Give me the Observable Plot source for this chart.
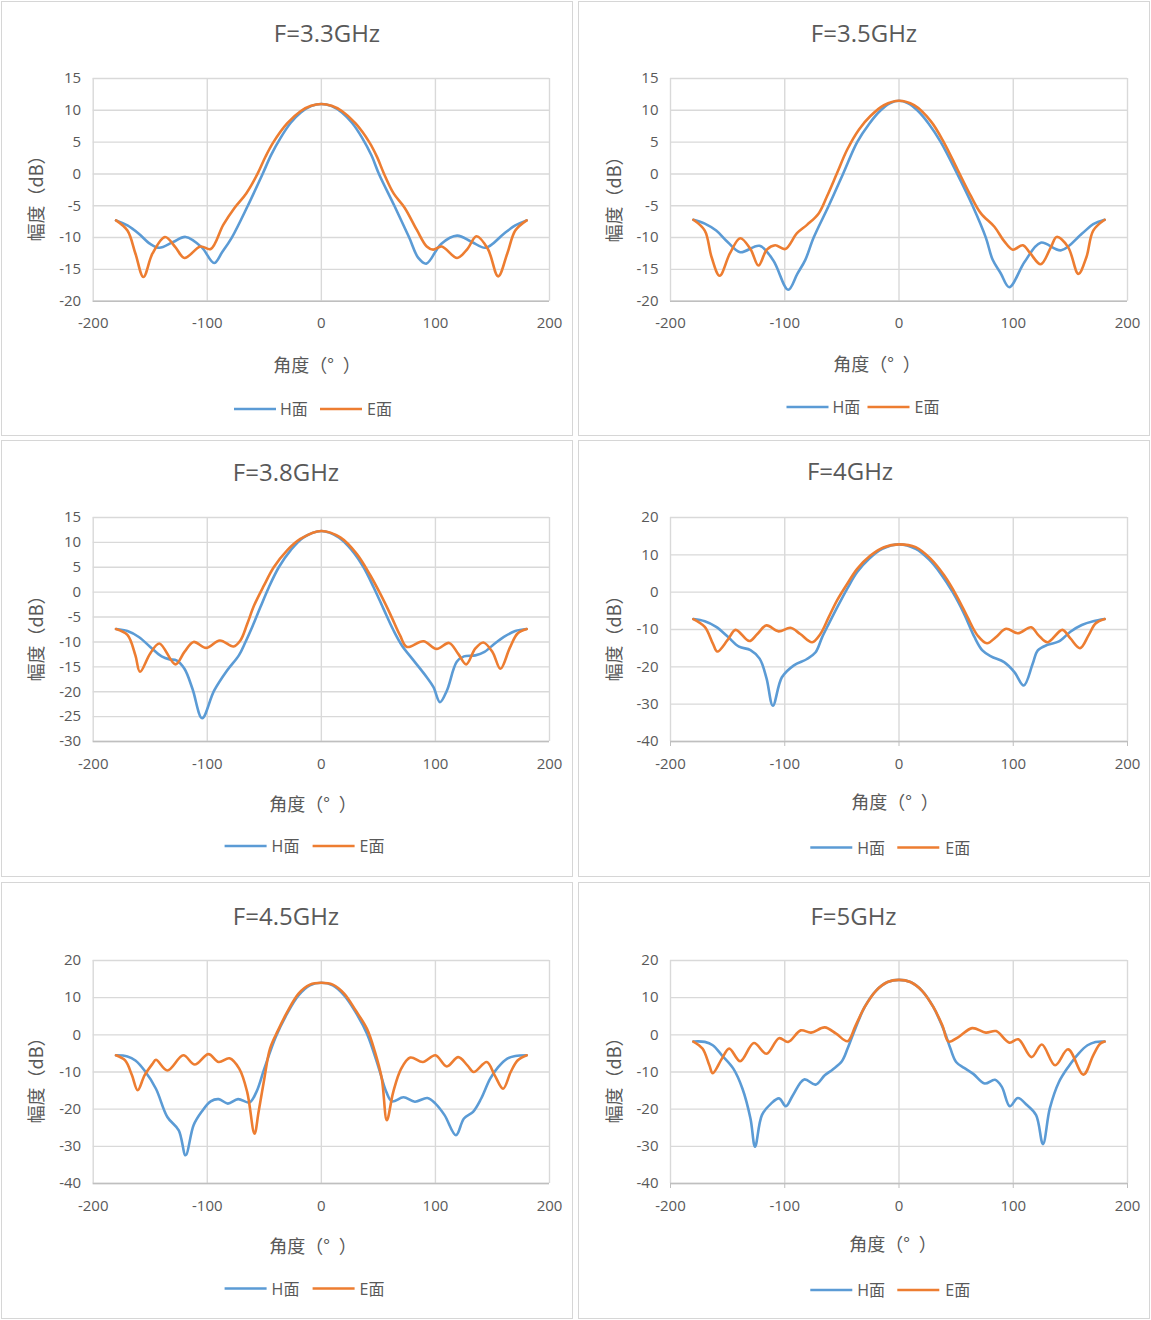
<!DOCTYPE html>
<html>
<head>
<meta charset="utf-8">
<script src="https://cdn.jsdelivr.net/npm/d3@7"></script>
<script src="https://cdn.jsdelivr.net/npm/@observablehq/plot@0.6"></script>
<style>
  html, body { margin: 0; padding: 0; background: #fff; }
  #page { position: relative; width: 1151px; height: 1320px; background: #fff; overflow: hidden; }
  .panel { position: absolute; box-sizing: border-box; border: 1px solid #d6d6d6; }
  .plotwrap { position: absolute; }
  #overlay { position: absolute; left: 0; top: 0; pointer-events: none; }
</style>
</head>
<body>
<div id="page"></div>
<script>
// ---------------- data (angle in degrees, amplitude in dB) ----------------
const xTicks = [-200, -100, 0, 100, 200];
const yTicks1520 = [-20, -15, -10, -5, 0, 5, 10, 15];
const yTicks1530 = [-30, -25, -20, -15, -10, -5, 0, 5, 10, 15];
const yTicks2040 = [-40, -30, -20, -10, 0, 10, 20];

const titles = ["F=3.3GHz", "F=3.5GHz", "F=3.8GHz", "F=4GHz", "F=4.5GHz", "F=5GHz"];
const seriesNames = ["H面", "E面"];
const xTitleMain = "角度（°";
const xTitleEnd = "）";
const yTitle = "幅度（dB）";

const h33 = [[-180,-7.3],[-170,-8.1],[-160,-9.4],[-150,-11.0],[-142,-11.6],[-130,-10.7],[-119,-9.9],[-105,-11.5],[-94,-14],[-87,-12.3],[-78.5,-10],[-64.5,-5],[-51.5,0],[-44,3],[-36,5.6],[-27,8],[-18,9.65],[-9,10.66],[0,11],[9,10.66],[18,9.65],[27,8],[36,5.6],[44,2.9],[50.5,0],[64,-5],[77,-10],[85,-13.2],[92,-14.1],[105,-11],[119,-9.7],[132,-10.7],[144,-11.6],[160,-9.4],[170,-8.1],[180,-7.3]];
const e33 = [[-180,-7.3],[-170,-8.9],[-163,-12.5],[-156,-16.2],[-148,-12.5],[-137,-9.9],[-128,-11.5],[-120,-13.2],[-106,-11.4],[-97,-11.8],[-86,-8],[-76,-5.3],[-66,-3.1],[-56,0],[-49,2.7],[-42,5],[-30,7.94],[-18,9.9],[-9,10.72],[0,11],[9,10.72],[18,9.9],[30,7.94],[42,5],[49,2.6],[55,0],[63.5,-3.1],[73,-5.3],[83.7,-8.8],[92.4,-11.4],[98,-11.9],[105.5,-11.4],[119,-13.2],[128,-11.8],[136,-9.8],[146,-11.8],[155,-16.1],[163,-12.5],[170,-8.9],[180,-7.3]];

const h35 = [[-180,-7.2],[-170,-7.8],[-160,-8.9],[-150,-10.7],[-139,-12.3],[-122,-11.3],[-110,-13.6],[-97,-18.2],[-89,-15.7],[-82,-13.5],[-74.7,-10],[-61.5,-5],[-49,0],[-36.6,5],[-26,7.9],[-16,10],[-8,11.1],[0,11.5],[8,11.1],[16,10],[26,7.9],[36.6,5],[51,0],[64.4,-5],[76,-10],[82,-13.5],[89,-15.6],[96.5,-17.8],[110,-13.8],[124,-10.8],[142,-12],[160,-9.4],[170,-7.9],[180,-7.2]];
const e35 = [[-180,-7.2],[-170,-8.9],[-164,-13.1],[-157,-16],[-148,-12.5],[-139,-10.1],[-130,-11.8],[-123,-14.4],[-115.7,-11.9],[-108.4,-11.2],[-99.6,-11.8],[-89.3,-9.3],[-80.5,-8],[-70.3,-6.2],[-63,-3.5],[-54.2,0.15],[-45.4,3.8],[-35,7],[-25,9.1],[-13.2,10.8],[0,11.5],[13.2,10.8],[27.8,8.3],[39.5,4.9],[51.2,0.7],[63,-3.5],[71.7,-6.2],[83.5,-8.3],[92.2,-10.6],[99.6,-11.9],[108.4,-11.2],[115,-12.5],[124,-14.2],[133,-11.5],[138,-9.9],[148,-11.5],[157,-15.7],[164,-13.1],[170,-8.9],[180,-7.2]];

const h38 = [[-180,-7.4],[-170,-7.8],[-160,-9],[-150,-11],[-140,-12.9],[-133,-13.5],[-127,-13.7],[-120,-15.4],[-113,-19.4],[-104.5,-25.3],[-94,-19.8],[-82.5,-15.7],[-72.3,-12.7],[-66.5,-10],[-60.6,-7],[-53.4,-3],[-46,1],[-37.3,5],[-27,8.4],[-15.5,11],[0,12.3],[15.2,11],[26.8,8.4],[37,5],[45.8,1],[54.5,-3.35],[63.3,-7.7],[70.6,-10.7],[80.8,-13.7],[92.4,-17.1],[98.3,-19.1],[104,-22.1],[110,-19.8],[118.7,-14],[125,-12.9],[135,-12.7],[143,-12],[150,-10.7],[160,-9],[170,-7.8],[180,-7.4]];
const e38 = [[-180,-7.4],[-170,-8.6],[-163,-12.7],[-159,-16],[-150,-12.3],[-142,-10.3],[-128,-14.5],[-120,-12],[-112,-10],[-101,-11.2],[-89,-9.7],[-77,-10.9],[-71,-9.7],[-65,-6.4],[-59,-2.7],[-50.4,1.3],[-41.7,5],[-30,8.4],[-18.4,10.7],[0,12.3],[16.6,11],[31,7.7],[43,3.35],[51.6,-0.3],[60.3,-4.35],[69,-8.7],[75,-11],[89.5,-9.85],[101,-11.4],[112,-10.2],[120,-12.4],[127,-14.5],[135,-11.3],[142,-10.1],[150,-12],[157,-15.4],[165,-11.3],[172,-8.3],[180,-7.4]];

const h40 = [[-180,-7.2],[-170,-7.8],[-160,-9.3],[-150,-11.9],[-140,-14.6],[-130,-15.5],[-122,-17.8],[-116,-23],[-110.4,-30.4],[-102.5,-22.8],[-92,-19.6],[-80.5,-17.9],[-73,-16.1],[-67.3,-12.1],[-61.5,-8.5],[-54,-4],[-45.4,0.9],[-36.6,5.4],[-26.4,8.9],[-14.6,11.6],[0,12.8],[14.6,11.6],[26.4,8.7],[36.6,4.9],[47,0],[57,-5.8],[66,-12],[73,-15.6],[80.5,-17.2],[92,-18.75],[101,-21.4],[109.2,-25],[117,-19.2],[121.5,-15.6],[130,-14.1],[140,-13.2],[150,-10.6],[160,-8.8],[170,-7.8],[180,-7.2]];
const e40 = [[-180,-7.2],[-170,-9.3],[-163,-13.7],[-159,-15.9],[-150,-12.8],[-143,-10.1],[-131,-13.1],[-124,-11.2],[-116,-8.9],[-105.4,-10.5],[-95,-9.55],[-86.4,-11.2],[-76,-13.4],[-68.8,-11.2],[-61.5,-6.7],[-54.2,-2.2],[-45.4,2.2],[-36.6,6.25],[-25,9.8],[-13.2,12.05],[0,12.8],[14.6,12.05],[27.8,8.9],[39.5,4.5],[51,-1.3],[60,-6.7],[68.8,-11.6],[77,-13.7],[85,-12],[93.7,-9.8],[104,-11],[115.7,-9.4],[122,-11.5],[130,-13.4],[143,-10.1],[150,-12.4],[158.5,-15],[166,-11.5],[172,-8.4],[180,-7.2]];

const h45 = [[-180,-5.5],[-170,-5.8],[-163,-6.9],[-155,-9.6],[-145,-14.5],[-135,-22.1],[-125,-25.7],[-119,-32.4],[-112,-24.3],[-105,-20.7],[-97,-17.9],[-90,-17.3],[-82,-18.5],[-73,-17.3],[-63,-18.2],[-57,-15.4],[-50,-9.1],[-40,-0.6],[-30,5.7],[-20,10.6],[-10,13.3],[0,14],[10,13.3],[20,10.6],[30,6.1],[40,0.3],[50,-8.6],[57,-15.4],[62,-17.9],[72,-16.8],[82,-18],[93,-17],[100,-18.5],[108,-21.6],[118,-27],[125,-22.5],[133,-20.7],[140,-17.2],[148,-11.8],[155,-8.7],[163,-6.4],[170,-5.7],[180,-5.5]];
const e45 = [[-180,-5.5],[-172,-6.9],[-166,-10.9],[-161,-14.9],[-155,-10.9],[-148,-7.8],[-145,-6.7],[-135,-9.6],[-121,-5.5],[-111,-8],[-99,-5.2],[-90,-7.3],[-80.5,-6.3],[-72,-9.1],[-65,-15.4],[-58.6,-26.6],[-55,-20.7],[-50,-11.8],[-45,-3.7],[-38,1.2],[-30,6.1],[-20,11.1],[-10,13.5],[0,14],[10,13.5],[20,11.1],[30,6.6],[40,1.6],[47,-4.6],[53,-11.8],[57.4,-23],[63,-15.4],[70,-9.1],[78,-6.1],[89,-7.3],[100,-5.5],[110,-8.5],[120,-6],[128,-8.2],[133.5,-10],[145,-7.3],[152,-10.9],[159.3,-14.5],[166,-10],[172,-6.9],[180,-5.5]];

const h50 = [[-180,-1.8],[-170,-1.9],[-163,-2.8],[-155,-5.5],[-145,-9.1],[-137,-14.5],[-130,-22.5],[-126,-30.1],[-120,-21.6],[-112,-18.5],[-105,-17.1],[-99,-19.2],[-93,-16.3],[-83,-12],[-73,-13.4],[-65,-10.9],[-58,-9.3],[-50,-7.1],[-45,-3.7],[-40,0.3],[-30,7.5],[-20,11.9],[-10,14.2],[0,14.8],[10,14.2],[20,11.9],[30,7.5],[40,0.7],[45,-3.7],[50,-7.3],[57,-8.9],[65,-10.5],[75,-13.1],[84,-12.1],[90,-14],[97,-19.2],[104,-17],[112,-18.9],[120,-21.6],[126,-29.4],[132,-19.8],[140,-12.7],[148,-8.7],[157,-5.1],[165,-2.8],[172,-1.9],[180,-1.8]];
const e50 = [[-180,-1.8],[-172,-3.7],[-166,-8.2],[-163,-10.3],[-155,-6.4],[-148.6,-3.7],[-139,-7.1],[-127,-2.2],[-116,-5.1],[-105,-0.9],[-97,-1.9],[-86,1.2],[-77,0.6],[-65,2],[-55,0.3],[-45,-1.7],[-38,2.5],[-30,7.5],[-20,11.9],[-10,14.2],[0,14.8],[10,14.2],[20,11.9],[30,7.5],[38,2.5],[43.4,-1.8],[52,-0.6],[64,1.8],[76,0.6],[85,1],[96.5,-2.1],[104.5,-1.2],[116,-6],[125,-2.6],[136.7,-8.2],[148,-3.9],[161.4,-10.7],[170,-5.5],[176,-2.4],[180,-1.8]];

// ---------------- layout ----------------
const BLUE = "#5B9BD5", ORANGE = "#ED7D31", TEXT = "#595959", GRID = "#d9d9d9";
const LATIN = "'Open Sans','Noto Sans CJK SC',sans-serif";
const CJK = "'Noto Sans CJK SC','Open Sans',sans-serif";

// panel box (border), plot frame, text anchors in page coordinates
const panels = [
  {box:[1,1,572,435],   frame:[92.7,78,549,300.7],   title:[327,42.3],   xt:[317,371.5],   yt:[43,194],   leg:[234,409,46,86,133],   h:h33, e:e33, yTicks:yTicks1520, tick:0},
  {box:[578,1,572,435], frame:[670,78,1127,300.7],   title:[864,42.3],   xt:[877,370.5],   yt:[621,195],  leg:[786.5,407,46,81,128], h:h35, e:e35, yTicks:yTicks1520, tick:0},
  {box:[1,440,572,437], frame:[92.7,517,549,741],    title:[286,481],    xt:[313,811],     yt:[43,634],   leg:[224.6,846,47,88,135], h:h38, e:e38, yTicks:yTicks1530, tick:0},
  {box:[578,440,572,437], frame:[670,517,1127,741],  title:[850,480],    xt:[895,809],     yt:[621,634],  leg:[810.3,847.5,47,87,135], h:h40, e:e40, yTicks:yTicks2040, tick:5},
  {box:[1,882,572,437], frame:[92.7,960,549,1183],   title:[286,924.5],  xt:[313,1253],    yt:[43,1076],  leg:[224.6,1288.5,47,88,135], h:h45, e:e45, yTicks:yTicks2040, tick:0},
  {box:[578,882,572,437], frame:[670,960,1127,1183], title:[853.5,924.5], xt:[893,1251],   yt:[621,1076], leg:[810.3,1290,47,87,135], h:h50, e:e50, yTicks:yTicks2040, tick:5}
];

const page = document.getElementById("page");
const fmt = d => String(d);

panels.forEach((p, i) => {
  const [bx, by, bw, bh] = p.box;
  const box = document.createElement("div");
  box.className = "panel";
  Object.assign(box.style, {left: bx + "px", top: by + "px", width: bw + "px", height: bh + "px"});
  page.appendChild(box);

  const [fl, ft, fr, fb] = p.frame;
  const W = bw, H = bh;
  const yMin = p.yTicks[0], yMax = p.yTicks[p.yTicks.length - 1];
  const chart = Plot.plot({
    width: W, height: H,
    marginLeft: fl - bx, marginTop: ft - by,
    marginRight: bx + W - fr, marginBottom: by + H - fb,
    style: {fontFamily: LATIN, fontSize: "15px", color: TEXT, background: "transparent", overflow: "visible", maxWidth: "none"},
    x: {domain: [-200, 200]},
    y: {domain: [yMin, yMax]},
    marks: [
      Plot.gridX(xTicks, {stroke: GRID, strokeOpacity: 1, strokeWidth: 1.4}),
      Plot.gridY(p.yTicks, {stroke: GRID, strokeOpacity: 1, strokeWidth: 1.4}),
      Plot.ruleY([yMin], {stroke: "#bfbfbf", strokeWidth: 1.4}),
      Plot.axisX(xTicks, {tickSize: p.tick, tickPadding: p.tick ? 11.5 : 16.5, tickFormat: fmt, label: null, stroke: "#bfbfbf"}),
      Plot.axisY(p.yTicks, {tickSize: 0, tickPadding: 12, tickFormat: fmt, label: null}),
      Plot.line(p.h, {x: d => d[0], y: d => d[1], stroke: BLUE, strokeWidth: 2.6, curve: "catmull-rom"}),
      Plot.line(p.e, {x: d => d[0], y: d => d[1], stroke: ORANGE, strokeWidth: 2.6, curve: "catmull-rom"})
    ]
  });
  const wrap = document.createElement("div");
  wrap.className = "plotwrap";
  Object.assign(wrap.style, {left: bx + "px", top: by + "px", width: W + "px", height: H + "px"});
  wrap.appendChild(chart);
  page.appendChild(wrap);
});

// text overlay: titles, axis titles, legends
const svg = d3.select(page).append("svg").attr("id", "overlay")
  .attr("width", 1151).attr("height", 1320).attr("viewBox", "0 0 1151 1320");

panels.forEach((p, i) => {
  svg.append("text").attr("x", p.title[0]).attr("y", p.title[1])
    .attr("text-anchor", "middle").attr("font-family", LATIN).attr("font-size", 24)
    .attr("fill", TEXT).text(titles[i]);
  const xt = svg.append("text").attr("x", p.xt[0]).attr("y", p.xt[1])
    .attr("text-anchor", "middle").attr("font-family", CJK).attr("font-size", 18)
    .attr("fill", TEXT);
  xt.append("tspan").text(xTitleMain);
  xt.append("tspan").attr("dx", 9).text(xTitleEnd);
  svg.append("text").attr("transform", `translate(${p.yt[0]},${p.yt[1]}) rotate(-90)`)
    .attr("text-anchor", "middle").attr("font-family", CJK).attr("font-size", 18)
    .attr("fill", TEXT).text(yTitle);
  const [lx, ly, tOff, l2Off, t2Off] = p.leg;
  const g = svg.append("g");
  g.append("line").attr("x1", lx).attr("x2", lx + 42).attr("y1", ly).attr("y2", ly)
    .attr("stroke", BLUE).attr("stroke-width", 2.6);
  g.append("text").attr("x", lx + tOff).attr("y", ly + 6.3).attr("font-family", LATIN)
    .attr("font-size", 16).attr("fill", TEXT).text(seriesNames[0]);
  g.append("line").attr("x1", lx + l2Off).attr("x2", lx + l2Off + 42).attr("y1", ly).attr("y2", ly)
    .attr("stroke", ORANGE).attr("stroke-width", 2.6);
  g.append("text").attr("x", lx + t2Off).attr("y", ly + 6.3).attr("font-family", LATIN)
    .attr("font-size", 16).attr("fill", TEXT).text(seriesNames[1]);
});
</script>
</body>
</html>
